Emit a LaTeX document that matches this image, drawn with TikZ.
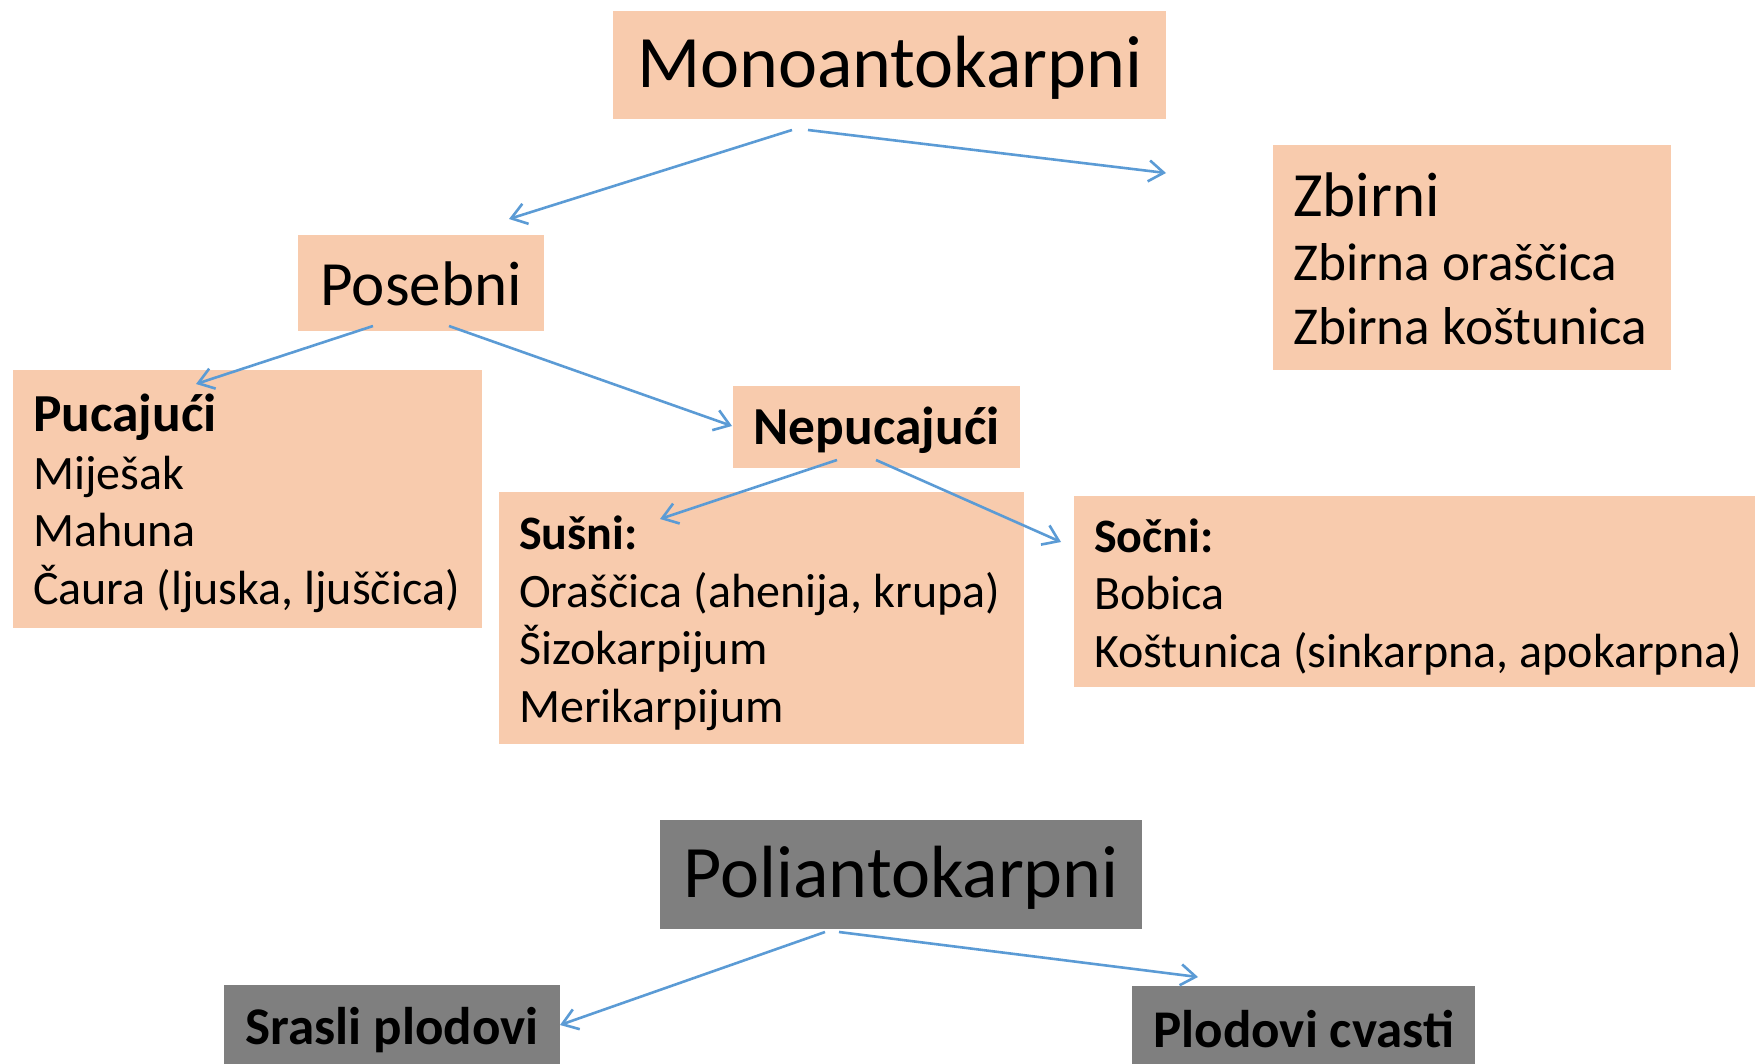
\documentclass[tikz,border=0pt]{standalone}
\usepackage{fontspec}
\setmainfont{Carlito}
\usetikzlibrary{arrows.meta,calc}
\definecolor{peach}{HTML}{F8CBAD}
\definecolor{grayfill}{HTML}{7F7F7F}
\definecolor{arrowblue}{HTML}{5B9BD5}
\tikzset{
  box/.style={fill=peach, draw=none, anchor=north west, inner sep=0pt},
  gbox/.style={fill=grayfill, draw=none, anchor=north west, inner sep=0pt},
  listbox/.style={box, inner xsep=20pt, font=\fontsize{48}{57.5}\selectfont},
  arr/.style={draw=arrowblue, line width=2.6pt, -{Straight Barb[length=15pt,width=21pt,line width=2.6pt]}},
}
\newcommand{\lowered}[2]{\raisebox{-#1}[\height][\depth]{#2}}
\newcommand{\textlines}[3]{\lowered{#1}{\parbox{#2}{\frenchspacing\raggedright #3}}}
\begin{document}
\begin{tikzpicture}[x=1pt,y=-1pt]
\useasboundingbox (0,0) rectangle (1755,1063);
\clip (0,0) rectangle (1755,1063);
% Monoantokarpni
\node[box, minimum width=553pt, minimum height=108pt, font=\fontsize{74}{80}\selectfont] (mono) at (613,11) {\lowered{3pt}{Monoantokarpni}};
\node[box, minimum width=398pt, minimum height=225pt, inner xsep=20pt, font=\fontsize{53.3}{64}\selectfont] (zbirni) at (1273,145)
  {\textlines{1pt}{358pt}{{\fontsize{63}{64}\selectfont Zbirni}\\Zbirna oraščica\\Zbirna koštunica}};
\node[box, minimum width=246pt, minimum height=96pt, font=\fontsize{63}{70}\selectfont] (pos) at (298,235) {\lowered{1pt}{Posebni}};
\node[listbox, minimum width=469pt, minimum height=258pt] (puc) at (13,370)
  {\textlines{4pt}{429pt}{{\fontsize{53.5}{57.5}\selectfont\bfseries Pucajući}\\Miješak\\Mahuna\\Čaura (ljuska, ljuščica)}};
\node[box, minimum width=287pt, minimum height=82pt, font=\fontsize{53.5}{60}\selectfont\bfseries] (nep) at (733,386) {\lowered{3pt}{Nepucajući}};
\node[listbox, minimum width=525pt, minimum height=252pt] (susni) at (499,492)
  {\textlines{5pt}{485pt}{\textbf{Sušni:}\\Oraščica (ahenija, krupa)\\Šizokarpijum\\Merikarpijum}};
\node[listbox, minimum width=700pt, minimum height=191pt] (socni) at (1074,496)
  {\textlines{5pt}{660pt}{\textbf{Sočni:}\\Bobica\\Koštunica (sinkarpna, apokarpna)}};
% Poliantokarpni
\node[gbox, minimum width=482pt, minimum height=109pt, font=\fontsize{74}{80}\selectfont] (poli) at (660,820) {\lowered{3pt}{Poliantokarpni}};
\node[gbox, minimum width=336pt, minimum height=90pt, font=\fontsize{53}{60}\selectfont\bfseries] (srasli) at (224,985) {Srasli plodovi};
\node[gbox, minimum width=343pt, minimum height=90pt, font=\fontsize{53}{60}\selectfont\bfseries] (plod) at (1132,986) {\lowered{-2pt}{Plodovi cvasti}};
% arrows
\draw[arr] ($(mono.north west)+(179,119)$) -- ($(pos.north west)+(211,-16)$);
\draw[arr] ($(mono.north west)+(195,119)$) -- ($(zbirni.north west)+(-107,28)$);
\draw[arr] ($(pos.north west)+(75,91)$) -- ($(puc.north west)+(183,14)$);
\draw[arr] ($(pos.north west)+(151,91)$) -- ($(nep.north west)+(-1,40)$);
\draw[arr] ($(nep.north west)+(104,74)$) -- ($(susni.north west)+(161,27)$);
\draw[arr] ($(nep.north west)+(143,74)$) -- ($(socni.north west)+(-13,46)$);
\draw[arr] ($(poli.north west)+(165,112)$) -- ($(srasli.north west)+(336,40)$);
\draw[arr] ($(poli.north west)+(179,112)$) -- ($(plod.north west)+(66,-9)$);
\end{tikzpicture}
\end{document}
